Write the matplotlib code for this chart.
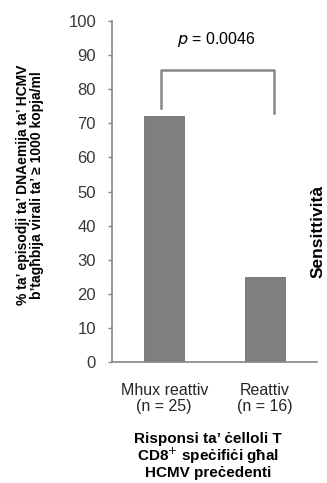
import matplotlib
matplotlib.use('Agg')
import matplotlib.pyplot as plt

plt.rcParams['font.family'] = ['Liberation Sans', 'DejaVu Sans']

# data
categories = ['Mhux reattiv\n(n = 25)', 'Reattiv\n(n = 16)']
values = [72, 25]
y_ticks = [0, 10, 20, 30, 40, 50, 60, 70, 80, 90, 100]
p_text = '$p$ = 0.0046'
bracket_x = [-0.03, -0.03, 1.09, 1.09]
bracket_y = [74.5, 85.5, 85.5, 73]

ylabel = '% ta’ episodji ta’ DNAemija ta’ HCMV\nb’tagħbija virali ta’ ≥ 1000 kopja/ml'
xlabel = 'Risponsi ta’ ċelloli T\nCD8$^{+}$ speċifiċi għal\nHCMV preċedenti'

GRAY = '#868686'

fig = plt.figure(figsize=(3.27, 4.83), dpi=100)
ax = fig.add_axes([0.3425, 0.2505, 0.6265, 0.706])

x = range(len(values))
ax.bar(x, values, width=0.4, color='#7f7f7f', edgecolor='#6e6e6e', linewidth=0.6)

ax.set_xlim(-0.52, 1.52)
ax.set_ylim(0, 100)
ax.set_yticks(y_ticks)
ax.set_xticks(list(x))
ax.set_xticklabels(categories, fontsize=11.5, color='#262626', linespacing=1.1)
ax.tick_params(axis='x', length=0, pad=15)
ax.tick_params(axis='y', length=3, width=1, color=GRAY, labelsize=12,
               labelcolor='#383838', pad=8.5)

for side in ['top', 'right']:
    ax.spines[side].set_visible(False)
for side in ['left', 'bottom']:
    ax.spines[side].set_color(GRAY)
    ax.spines[side].set_linewidth(1.2)

# significance bracket
ax.plot(bracket_x, bracket_y, color=GRAY, linewidth=1.8,
        solid_joinstyle='round', clip_on=False)
ax.text(0.52, 94.7, p_text, ha='center', va='center', fontsize=11.5)

ax.set_ylabel(ylabel, fontsize=10, fontweight='bold', linespacing=1.05)
ax.yaxis.set_label_coords(-0.33, 0.52)
ax.set_xlabel(xlabel, fontsize=11, fontweight='bold', linespacing=1.0)
ax.xaxis.set_label_coords(0.47, -0.205)
ax.xaxis.label.set_va('top')

fig.text(0.972, 0.52, 'Sensittività', rotation=90, ha='center', va='center',
         fontsize=12.5, fontweight='bold')

fig.savefig('out.png', dpi=100)
